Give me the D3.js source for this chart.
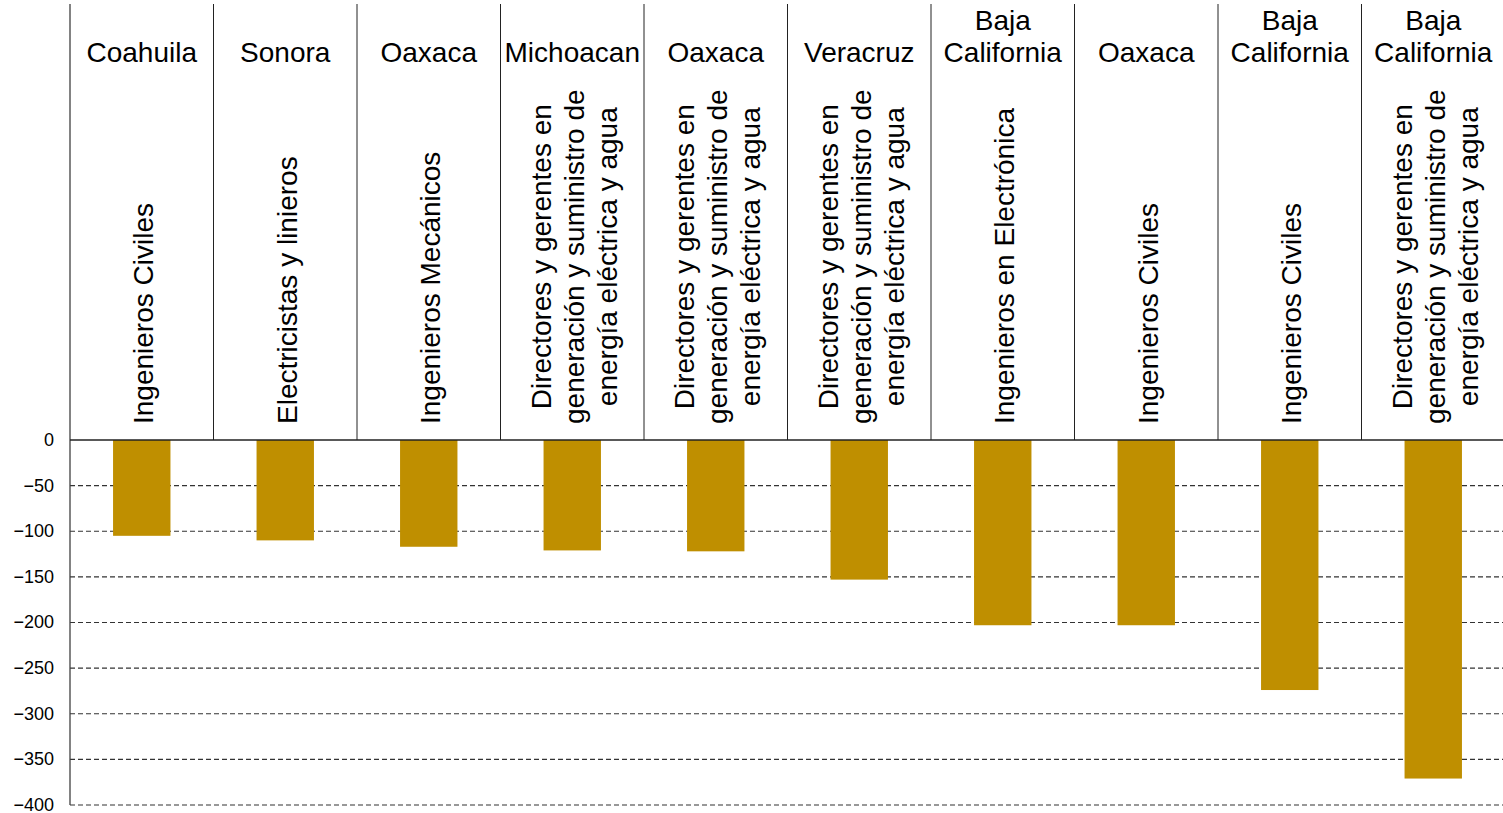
<!DOCTYPE html>
<html>
<head>
<meta charset="utf-8">
<script src="https://cdn.jsdelivr.net/npm/d3@7"></script>
<style>
  body { margin: 0; background: #fff; }
  svg { display: block; font-family: "Liberation Sans", Arial, sans-serif; }
</style>
</head>
<body>
<script>
// data
var states = ["Coahuila", "Sonora", "Oaxaca", "Michoacan", "Oaxaca", "Veracruz",
              "Baja\nCalifornia", "Oaxaca", "Baja\nCalifornia", "Baja\nCalifornia"];
var occupations = [
  "Ingenieros Civiles",
  "Electricistas y linieros",
  "Ingenieros Mecánicos",
  "Directores y gerentes en\ngeneración y suministro de\nenergía eléctrica y agua",
  "Directores y gerentes en\ngeneración y suministro de\nenergía eléctrica y agua",
  "Directores y gerentes en\ngeneración y suministro de\nenergía eléctrica y agua",
  "Ingenieros en Electrónica",
  "Ingenieros Civiles",
  "Ingenieros Civiles",
  "Directores y gerentes en\ngeneración y suministro de\nenergía eléctrica y agua"
];
var values = [-105, -110, -117, -121, -122, -153, -203, -203, -274, -371];
var yTicks = [0, -50, -100, -150, -200, -250, -300, -350, -400];

window.onload = function() {
  var width = 1503, height = 813;
  var left = 70, right = 1505, zeroY = 440, bottomY = 805, topY = 4;

  var svg = d3.select("body").append("svg")
      .attr("width", width)
      .attr("height", height);

  var idx = d3.range(values.length);

  var xScale = d3.scaleBand()
      .domain(idx)
      .range([left, right])
      .padding(0);

  var yScale = d3.scaleLinear()
      .domain([0, -400])
      .range([zeroY, bottomY]);

  var bw = xScale.bandwidth() * 0.4;

  // dashed grid lines
  svg.append("g").selectAll("line")
      .data(yTicks.filter(function(t) { return t != 0; }))
      .enter().append("line")
      .attr("x1", left).attr("x2", width)
      .attr("y1", function(d) { return yScale(d); })
      .attr("y2", function(d) { return yScale(d); })
      .style("stroke", "#333")
      .style("stroke-width", 1.2)
      .style("stroke-dasharray", "5,3");

  // bars
  svg.append("g").selectAll("rect")
      .data(idx)
      .enter().append("rect")
      .attr("x", function(i) { return xScale(i) + (xScale.bandwidth() - bw) / 2; })
      .attr("y", yScale(0))
      .attr("width", bw)
      .attr("height", function(i) { return yScale(values[i]) - yScale(0); })
      .style("fill", "#BF8F00");

  // y axis
  var yAxis = svg.append("g")
      .attr("transform", "translate(" + left + ",0)")
      .call(d3.axisLeft(yScale).tickValues(yTicks).tickSize(0).tickPadding(16));
  yAxis.select(".domain").remove();
  yAxis.selectAll("text")
      .attr("dy", "0.3em")
      .style("font-size", "18px")
      .style("font-family", "Liberation Sans, Arial, sans-serif")
      .attr("fill", "#000");

  // left axis line
  svg.append("line")
      .attr("x1", left).attr("x2", left)
      .attr("y1", topY).attr("y2", bottomY)
      .style("stroke", "#404040").style("stroke-width", 1.3);

  // zero line
  svg.append("line")
      .attr("x1", left).attr("x2", width)
      .attr("y1", yScale(0)).attr("y2", yScale(0))
      .style("stroke", "#222").style("stroke-width", 1.3);

  // category dividers
  svg.append("g").selectAll("line")
      .data(idx.slice(1))
      .enter().append("line")
      .attr("x1", function(i) { return xScale(i); })
      .attr("x2", function(i) { return xScale(i); })
      .attr("y1", topY).attr("y2", yScale(0))
      .style("stroke", "#222").style("stroke-width", 1);

  var lineH = 33;

  // state names at the top, bottom aligned
  idx.forEach(function(i) {
    var lines = states[i].split("\n");
    var cx = xScale(i) + xScale.bandwidth() / 2;
    var t = svg.append("text")
        .attr("text-anchor", "middle")
        .style("font-size", "28px")
        .attr("fill", "#000");
    lines.forEach(function(l, k) {
      t.append("tspan")
          .attr("x", cx)
          .attr("y", 62 - (lines.length - 1 - k) * 32)
          .text(l);
    });
  });

  // occupations, rotated, bottom aligned above zero line
  idx.forEach(function(i) {
    var lines = occupations[i].split("\n");
    var cx = xScale(i) + xScale.bandwidth() / 2;
    var n = lines.length;
    var g = svg.append("g")
        .attr("transform", "translate(" + cx + "," + 424 + ")rotate(-90)");
    var texts = [];
    lines.forEach(function(l, k) {
      var t = g.append("text")
          .attr("text-anchor", "middle")
          .attr("dominant-baseline", "central")
          .style("font-size", "28px")
          .attr("fill", "#000")
          .attr("y", (k - (n - 1) / 2) * lineH + 2)
          .text(l);
      texts.push(t);
    });
    // centre the lines on the longest one so the block sits on the zero line
    var maxLen = d3.max(texts, function(t) { return t.node().getComputedTextLength(); });
    texts.forEach(function(t) { t.attr("x", maxLen / 2); });
  });
};
</script>
</body>
</html>
